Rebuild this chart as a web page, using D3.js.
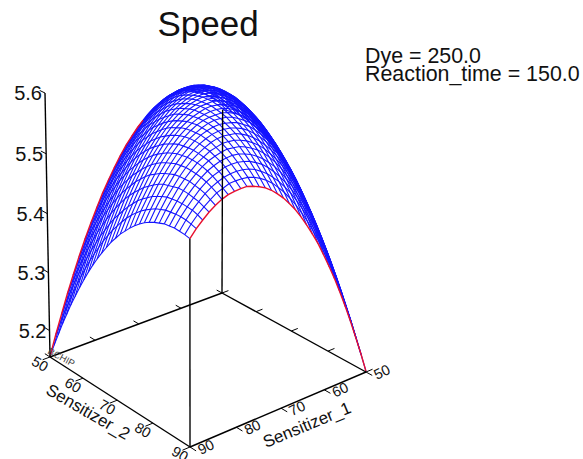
<!DOCTYPE html>
<html>
<head>
<meta charset="utf-8">
<script src="https://cdn.jsdelivr.net/npm/d3@7"></script>
<style>
  html, body { margin: 0; padding: 0; background: #fff; }
  svg { display: block; }
  text { font-family: "Liberation Sans", Arial, sans-serif; fill: #111; }
</style>
</head>
<body>
<div id="chart"></div>
<script>
const sensitizer1Grid = [50, 51.33, 52.67, 54, 55.33, 56.67, 58, 59.33, 60.67, 62, 63.33, 64.67, 66, 67.33, 68.67, 70, 71.33, 72.67, 74, 75.33, 76.67, 78, 79.33, 80.67, 82, 83.33, 84.67, 86, 87.33, 88.67, 90];
const sensitizer2Grid = [50, 51.33, 52.67, 54, 55.33, 56.67, 58, 59.33, 60.67, 62, 63.33, 64.67, 66, 67.33, 68.67, 70, 71.33, 72.67, 74, 75.33, 76.67, 78, 79.33, 80.67, 82, 83.33, 84.67, 86, 87.33, 88.67, 90];
const sensitizerTicks = [50, 60, 70, 80, 90];
const speedTicks = [5.2, 5.3, 5.4, 5.5, 5.6];

// one row per Sensitizer_2 value, columns follow Sensitizer_1
const speedRows = [
  [5.485,5.497,5.507,5.516,5.523,5.529,5.533,5.535,5.536,5.536,5.533,5.529,5.524,5.517,5.508,5.498,5.486,5.473,5.458,5.441,5.423,5.404,5.382,5.359,5.335,5.309,5.281,5.252,5.221,5.189,5.155],
  [5.487,5.500,5.511,5.520,5.528,5.535,5.539,5.543,5.544,5.544,5.543,5.540,5.535,5.529,5.521,5.511,5.500,5.487,5.473,5.457,5.440,5.421,5.401,5.378,5.355,5.329,5.303,5.274,5.244,5.212,5.179],
  [5.488,5.502,5.514,5.524,5.533,5.540,5.545,5.549,5.551,5.552,5.551,5.549,5.545,5.539,5.532,5.523,5.513,5.501,5.488,5.473,5.456,5.438,5.418,5.396,5.374,5.349,5.323,5.295,5.266,5.235,5.202],
  [5.489,5.503,5.515,5.526,5.536,5.544,5.550,5.554,5.558,5.559,5.559,5.557,5.554,5.549,5.543,5.535,5.525,5.514,5.501,5.487,5.471,5.453,5.434,5.414,5.391,5.368,5.342,5.315,5.287,5.256,5.225],
  [5.488,5.503,5.516,5.528,5.538,5.547,5.554,5.559,5.563,5.565,5.566,5.565,5.562,5.558,5.552,5.545,5.536,5.526,5.514,5.500,5.485,5.468,5.450,5.430,5.408,5.385,5.361,5.334,5.307,5.277,5.246],
  [5.487,5.502,5.516,5.529,5.540,5.549,5.557,5.563,5.567,5.570,5.572,5.571,5.570,5.566,5.561,5.555,5.547,5.537,5.526,5.513,5.498,5.482,5.465,5.445,5.425,5.402,5.378,5.353,5.326,5.297,5.267],
  [5.484,5.501,5.515,5.529,5.540,5.550,5.559,5.565,5.571,5.574,5.577,5.577,5.576,5.573,5.569,5.563,5.556,5.547,5.536,5.524,5.511,5.495,5.478,5.460,5.440,5.418,5.395,5.370,5.344,5.316,5.286],
  [5.481,5.498,5.514,5.527,5.540,5.551,5.560,5.567,5.573,5.578,5.581,5.582,5.581,5.580,5.576,5.571,5.564,5.556,5.546,5.535,5.522,5.507,5.491,5.473,5.454,5.433,5.411,5.387,5.361,5.334,5.305],
  [5.477,5.495,5.511,5.525,5.539,5.550,5.560,5.568,5.575,5.580,5.584,5.586,5.586,5.585,5.582,5.578,5.572,5.564,5.555,5.545,5.532,5.519,5.503,5.486,5.468,5.447,5.426,5.402,5.377,5.351,5.323],
  [5.472,5.490,5.507,5.523,5.536,5.549,5.559,5.568,5.576,5.582,5.586,5.589,5.590,5.589,5.587,5.584,5.578,5.572,5.563,5.553,5.542,5.529,5.514,5.498,5.480,5.461,5.440,5.417,5.393,5.367,5.340],
  [5.466,5.485,5.503,5.519,5.533,5.546,5.558,5.567,5.576,5.582,5.587,5.591,5.593,5.593,5.592,5.589,5.584,5.578,5.571,5.561,5.551,5.538,5.524,5.509,5.492,5.473,5.453,5.431,5.407,5.382,5.356],
  [5.459,5.479,5.497,5.514,5.529,5.543,5.555,5.566,5.575,5.582,5.588,5.592,5.594,5.595,5.595,5.593,5.589,5.584,5.577,5.568,5.558,5.547,5.533,5.519,5.502,5.484,5.465,5.444,5.421,5.397,5.371],
  [5.451,5.472,5.491,5.508,5.524,5.539,5.552,5.563,5.573,5.581,5.587,5.592,5.595,5.597,5.597,5.596,5.593,5.588,5.582,5.574,5.565,5.554,5.542,5.528,5.512,5.495,5.476,5.456,5.434,5.410,5.385],
  [5.442,5.464,5.484,5.502,5.519,5.534,5.547,5.559,5.570,5.579,5.586,5.591,5.595,5.598,5.599,5.598,5.596,5.592,5.587,5.580,5.571,5.561,5.549,5.536,5.521,5.504,5.486,5.467,5.445,5.423,5.398],
  [5.433,5.455,5.475,5.494,5.512,5.528,5.542,5.555,5.566,5.575,5.583,5.590,5.595,5.598,5.599,5.600,5.598,5.595,5.590,5.584,5.576,5.567,5.556,5.543,5.529,5.513,5.496,5.477,5.456,5.434,5.411],
  [5.422,5.445,5.466,5.486,5.504,5.521,5.536,5.549,5.561,5.572,5.580,5.587,5.593,5.597,5.599,5.600,5.599,5.597,5.593,5.587,5.580,5.572,5.561,5.549,5.536,5.521,5.504,5.486,5.466,5.445,5.422],
  [5.411,5.434,5.456,5.477,5.496,5.513,5.529,5.543,5.556,5.567,5.576,5.584,5.590,5.595,5.598,5.600,5.599,5.598,5.595,5.590,5.583,5.575,5.566,5.555,5.542,5.528,5.512,5.494,5.475,5.455,5.433],
  [5.398,5.423,5.445,5.467,5.486,5.504,5.521,5.536,5.549,5.561,5.571,5.580,5.587,5.592,5.596,5.598,5.599,5.598,5.595,5.591,5.586,5.579,5.570,5.559,5.547,5.534,5.519,5.502,5.484,5.464,5.442],
  [5.385,5.410,5.434,5.456,5.476,5.495,5.512,5.528,5.542,5.554,5.565,5.574,5.582,5.588,5.593,5.596,5.597,5.597,5.595,5.592,5.587,5.581,5.573,5.563,5.552,5.539,5.524,5.508,5.491,5.472,5.451],
  [5.371,5.397,5.421,5.444,5.465,5.484,5.502,5.519,5.533,5.547,5.558,5.568,5.577,5.584,5.589,5.593,5.595,5.595,5.594,5.592,5.588,5.582,5.575,5.566,5.555,5.543,5.529,5.514,5.497,5.479,5.459],
  [5.356,5.382,5.407,5.431,5.453,5.473,5.492,5.509,5.524,5.538,5.551,5.561,5.571,5.578,5.584,5.589,5.592,5.593,5.593,5.591,5.587,5.582,5.576,5.567,5.558,5.546,5.533,5.519,5.503,5.485,5.466],
  [5.340,5.367,5.393,5.417,5.440,5.461,5.480,5.498,5.514,5.529,5.542,5.553,5.563,5.572,5.578,5.584,5.587,5.589,5.590,5.589,5.586,5.582,5.576,5.568,5.559,5.549,5.536,5.523,5.507,5.490,5.472],
  [5.323,5.351,5.377,5.402,5.426,5.447,5.468,5.486,5.503,5.519,5.532,5.545,5.555,5.564,5.572,5.578,5.582,5.585,5.586,5.586,5.584,5.580,5.575,5.568,5.560,5.550,5.539,5.525,5.511,5.495,5.477],
  [5.305,5.334,5.361,5.387,5.411,5.433,5.454,5.473,5.491,5.507,5.522,5.535,5.546,5.556,5.564,5.571,5.576,5.580,5.581,5.582,5.581,5.578,5.573,5.567,5.560,5.551,5.540,5.527,5.514,5.498,5.481],
  [5.286,5.316,5.344,5.370,5.395,5.418,5.440,5.460,5.478,5.495,5.511,5.524,5.536,5.547,5.556,5.563,5.569,5.573,5.576,5.577,5.577,5.574,5.571,5.565,5.559,5.550,5.540,5.529,5.515,5.501,5.484],
  [5.267,5.297,5.326,5.353,5.378,5.402,5.425,5.445,5.465,5.482,5.498,5.513,5.526,5.537,5.547,5.555,5.561,5.566,5.570,5.571,5.572,5.570,5.567,5.563,5.557,5.549,5.540,5.529,5.516,5.502,5.487],
  [5.246,5.277,5.307,5.334,5.361,5.385,5.408,5.430,5.450,5.468,5.485,5.500,5.514,5.526,5.536,5.545,5.552,5.558,5.562,5.565,5.566,5.565,5.563,5.559,5.554,5.547,5.538,5.528,5.516,5.503,5.488],
  [5.225,5.256,5.287,5.315,5.342,5.368,5.391,5.414,5.434,5.453,5.471,5.487,5.501,5.514,5.525,5.535,5.543,5.549,5.554,5.557,5.559,5.559,5.558,5.554,5.550,5.544,5.536,5.526,5.515,5.503,5.489],
  [5.202,5.235,5.266,5.295,5.323,5.349,5.374,5.396,5.418,5.438,5.456,5.473,5.488,5.501,5.513,5.523,5.532,5.539,5.545,5.549,5.551,5.552,5.551,5.549,5.545,5.540,5.533,5.524,5.514,5.502,5.488],
  [5.179,5.212,5.244,5.274,5.303,5.329,5.355,5.378,5.401,5.421,5.440,5.457,5.473,5.487,5.500,5.511,5.521,5.529,5.535,5.540,5.543,5.544,5.544,5.543,5.539,5.535,5.528,5.520,5.511,5.500,5.487],
  [5.155,5.189,5.221,5.252,5.281,5.309,5.335,5.359,5.382,5.404,5.423,5.441,5.458,5.473,5.486,5.498,5.508,5.517,5.524,5.529,5.533,5.536,5.536,5.535,5.533,5.529,5.523,5.516,5.507,5.497,5.485]
];

const width = 583;
const height = 459;
const speedFloor = 5.154;

const svg = d3.select("#chart").append("svg")
  .attr("width", width)
  .attr("height", height);

// unit cube scales, then a camera that maps the cube onto the page
const u = d3.scaleLinear().domain([50, 90]).range([0, 1]);
const v = d3.scaleLinear().domain([50, 90]).range([0, 1]);
const w = d3.scaleLinear().domain([speedFloor, 5.6]).range([0, 1]);

const camera = {
  x: [-175.1, 117.61, -6.1, 222],
  y: [41.83, 52.18, -250.5, 293],
  d: [-0.0621, -0.0721, -0.0313, 1]
};

function project(s1, s2, speed) {
  const a = u(s1), b = v(s2), c = w(speed);
  const d = camera.d[0] * a + camera.d[1] * b + camera.d[2] * c + camera.d[3];
  return [
    (camera.x[0] * a + camera.x[1] * b + camera.x[2] * c + camera.x[3]) / d,
    (camera.y[0] * a + camera.y[1] * b + camera.y[2] * c + camera.y[3]) / d
  ];
}

const line = d3.line();

function seg(g, p, q, sw) {
  g.append("path")
    .attr("d", line([p, q]))
    .attr("fill", "none")
    .attr("stroke", "#000")
    .attr("stroke-width", sw);
}

// surface: first and last Sensitizer_2 rows are red
const mesh = svg.append("g").attr("fill", "none").attr("stroke-width", 1.1);
const rowLines = speedRows.map((row, j) => row.map((z, i) => project(sensitizer1Grid[i], sensitizer2Grid[j], z)));
const colLines = sensitizer1Grid.map((s, i) => speedRows.map((row, j) => project(s, sensitizer2Grid[j], row[i])));

rowLines.slice(1, -1).forEach(l => mesh.append("path").attr("d", line(l)).attr("stroke", "#1414ff"));
colLines.forEach(l => mesh.append("path").attr("d", line(l)).attr("stroke", "#1414ff"));
// the back red edge only shows on the left flank, the crest hides the rest
mesh.append("path").attr("d", line(rowLines[0].slice(14))).attr("stroke", "#e8102e").attr("stroke-width", 1.4);
mesh.append("path").attr("d", line(rowLines[rowLines.length - 1])).attr("stroke", "#e8102e").attr("stroke-width", 1.4);

// floor and corner posts
const axes = svg.append("g");
const left = [90, 50], front = [90, 90], right = [50, 90], back = [50, 50];
const lastRow = speedRows[speedRows.length - 1];

seg(axes, project(...left, speedFloor), project(...front, speedFloor), 1.4);
seg(axes, project(...front, speedFloor), project(...right, speedFloor), 1.4);
seg(axes, project(...right, speedFloor), project(...back, speedFloor), 1.4);
seg(axes, project(...back, speedFloor), project(...left, speedFloor), 1.4);
seg(axes, project(...left, speedFloor), project(...left, 5.6), 1.4);
seg(axes, project(...front, speedFloor), project(...front, lastRow[lastRow.length - 1]), 1.4);
seg(axes, project(...back, speedFloor), project(...back, speedRows[0][0]), 1.4);

// ticks stick out of the floor by a little
const stub = 1.6;
sensitizerTicks.forEach(t => {
  seg(axes, project(t, 90, speedFloor), project(t, 90 + stub, speedFloor), 1);
  seg(axes, project(90, t, speedFloor), project(90 + stub, t, speedFloor), 1);
  seg(axes, project(t, 50, speedFloor), project(t, 50 - stub, speedFloor), 1);
  seg(axes, project(50, t, speedFloor), project(50 - stub, t, speedFloor), 1);
});
speedTicks.forEach(t => {
  seg(axes, project(90, 50, t), project(90, 50 - stub, t), 1);
});

function rotated(s, p, dx, dy, angle, size, fill) {
  const t = svg.append("text")
    .attr("transform", `translate(${p[0] + dx},${p[1] + dy}) rotate(${angle})`)
    .attr("text-anchor", "middle")
    .attr("dominant-baseline", "central")
    .style("font-size", size + "px")
    .text(s);
  if (fill) t.style("fill", fill);
}

sensitizerTicks.forEach(t => {
  rotated(t, project(t, 90, speedFloor), 16, 0, -25, 14.5);
  rotated(t, project(90, t, speedFloor), -10, 7, 30, 14.5);
});

speedTicks.forEach(t => {
  const p = project(90, 50, t);
  svg.append("text")
    .attr("x", p[0] - 3)
    .attr("y", p[1] + 7)
    .attr("text-anchor", "end")
    .style("font-size", "20px")
    .text(d3.format(".1f")(t));
});

rotated("Sensitizer_2", [88, 412], 0, 0, 30, 17);
rotated("Sensitizer_1", [307, 425], 0, 0, -22.5, 17);
rotated("BCHIP", [61.5, 357], 0, 0, 28, 9.5, "#444");

svg.append("text").attr("x", 208).attr("y", 36).attr("text-anchor", "middle").style("font-size", "35px").text("Speed");
svg.append("text").attr("x", 365).attr("y", 63).style("font-size", "21.4px").text("Dye = 250.0");
svg.append("text").attr("x", 365).attr("y", 81).style("font-size", "21.4px").text("Reaction_time = 150.0");
</script>
</body>
</html>
